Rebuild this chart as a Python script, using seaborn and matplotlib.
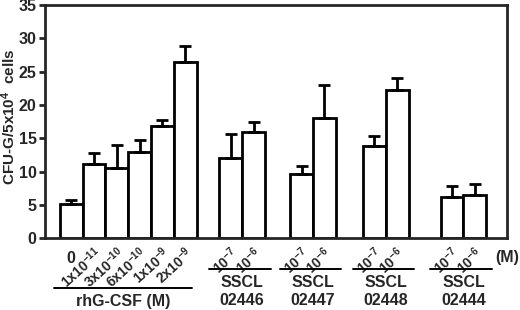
import numpy as np
import matplotlib
matplotlib.use('Agg')
import matplotlib.pyplot as plt
import matplotlib.transforms as mtransforms
import seaborn as sns

# values
rhg_labels = ['0', r'1x10$^{-11}$', r'3x10$^{-10}$', r'6x10$^{-10}$', r'1x10$^{-9}$', r'2x10$^{-9}$']
rhg_means = [5.1, 11.1, 10.6, 13.0, 16.8, 26.5]
rhg_errs = [0.7, 1.7, 3.4, 1.8, 0.9, 2.4]

sscl_names = ['02446', '02447', '02448', '02444']
sscl_doses = [r'10$^{-7}$', r'10$^{-6}$']
sscl_means = [12.1, 15.9, 9.7, 18.1, 13.9, 22.2, 6.2, 6.5]
sscl_errs = [3.6, 1.5, 1.2, 4.9, 1.5, 1.8, 1.7, 1.6]

sns.set_style('ticks')
plt.rcParams['font.family'] = ['Liberation Sans', 'DejaVu Sans']
plt.rcParams['mathtext.fontset'] = 'custom'
plt.rcParams['mathtext.bf'] = 'Liberation Sans:bold'
plt.rcParams['mathtext.rm'] = 'Liberation Sans:bold'
plt.rcParams['mathtext.default'] = 'bf'

# bar positions: six touching rhG-CSF bars, then pairs separated by gaps
pair_starts = [7, 10.1, 13.3, 16.7]
pos = list(range(len(rhg_means)))
for s in pair_starts:
    pos += [s, s + 1]
means = rhg_means + sscl_means
errs = rhg_errs + sscl_errs
labels = rhg_labels + sscl_doses * len(sscl_names)

fig = plt.figure(figsize=(5.2, 3.1), dpi=100)
ax = fig.add_axes([0.0865, 0.231, 0.888, 0.753])

sns.barplot(x=pos, y=means, native_scale=True, width=1, color='white',
            edgecolor='black', linewidth=2, saturation=1, errorbar=None, ax=ax)
ax.errorbar(pos, means, yerr=[np.zeros(len(errs)), errs], fmt='none',
            ecolor='black', elinewidth=2, capsize=4, capthick=2, zorder=1)

ax.set_xlim(-1.15, 19.1)
ax.set_ylim(0, 35)
ax.set_yticks(range(0, 36, 5))
ax.set_yticklabels([str(v) for v in range(0, 36, 5)], fontsize=11.5, fontweight='bold')
ax.tick_params(axis='y', width=2, length=4, pad=2)
ax.set_ylabel('CFU-G/5x10$^{4}$  cells', fontsize=11, fontweight='bold')
ax.yaxis.set_label_coords(-0.058, 0.52)
for sp in ax.spines.values():
    sp.set_visible(True)
    sp.set_linewidth(2)

ax.set_xticks(pos)
ax.set_xticklabels(labels, rotation=42, ha='right', va='center',
                   rotation_mode='anchor', fontsize=10, fontweight='bold')
ax.tick_params(axis='x', length=0, pad=9)
shift = mtransforms.ScaledTranslation(5 / 100, 0, fig.dpi_scale_trans)
for i, t in enumerate(ax.get_xticklabels()):
    if i == 0:
        t.set_rotation(0)
        t.set_ha('center')
        t.set_va('top')
        t.set_fontsize(11.5)
    else:
        t.set_transform(t.get_transform() + shift)

trans = mtransforms.blended_transform_factory(ax.transData, ax.transAxes)
ax.plot([-0.76, 5.3], [-0.212, -0.212], color='black', lw=1.4, transform=trans, clip_on=False)
ax.text(2.27, -0.272, 'rhG-CSF (M)', transform=trans, ha='center', va='center',
        fontsize=11.5, fontweight='bold')
for s, name in zip(pair_starts, sscl_names):
    c = s + 0.5
    ax.plot([c - 1.45, c + 1.25], [-0.131, -0.131], color='black', lw=1.4,
            transform=trans, clip_on=False)
    ax.text(c, -0.188, 'SSCL', transform=trans, ha='center', va='center',
            fontsize=11.5, fontweight='bold')
    ax.text(c, -0.268, name, transform=trans, ha='center', va='center',
            fontsize=11.5, fontweight='bold')
ax.text(19.1, -0.083, '(M)', transform=trans, ha='center', va='center',
        fontsize=11.5, fontweight='bold')

fig.savefig('out.png', dpi=100)
